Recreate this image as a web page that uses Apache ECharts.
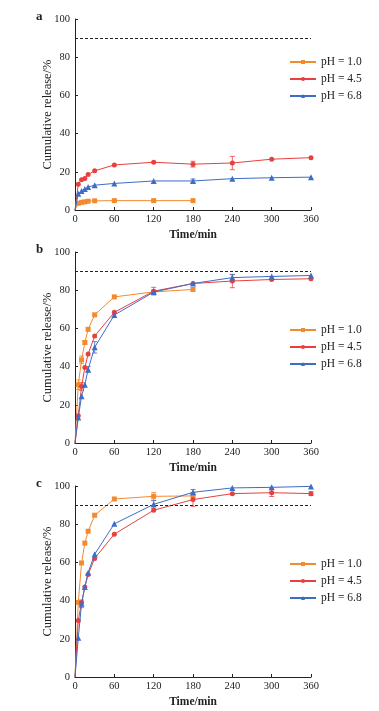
<!DOCTYPE html>
<html>
<head>
<meta charset="utf-8">
<script src="https://cdn.jsdelivr.net/npm/echarts@6/dist/echarts.min.js"></script>
<style>
  html, body { margin: 0; padding: 0; background: #fff; }
  #chart { width: 379px; height: 711px; }
</style>
</head>
<body>
<div id="chart"></div>
<script>
// 时间点 (min)
var timeAll = [0, 5, 10, 15, 20, 30, 60, 120, 180, 240, 300, 360];
var timeShort = [0, 5, 10, 15, 20, 30, 60, 120, 180];
var xTicks = [0, 60, 120, 180, 240, 300, 360];
var yTicks = [0, 20, 40, 60, 80, 100];
var limitLine = 90;
var seriesNames = ['pH = 1.0', 'pH = 4.5', 'pH = 6.8'];
var panelLabels = ['a', 'b', 'c'];

// panel a
var a_ph10 = [0, 3.5, 4.0, 4.3, 4.6, 4.8, 4.9, 4.9, 4.9];
var a_ph45 = [0, 13.5, 15.8, 16.5, 18.6, 20.5, 23.6, 25.0, 24.0, 24.6, 26.6, 27.4];
var a_ph68 = [0, 8.5, 10.0, 11.0, 12.0, 13.0, 13.9, 15.2, 15.2, 16.4, 16.9, 17.2];
var a_err10 = [0, 0, 0, 0, 0, 0, 0, 0, 0];
var a_err45 = [0, 0, 0, 0, 0, 0, 0, 0, 1.5, 3.5, 0, 0];
var a_err68 = [0, 0, 0, 0, 0, 0, 0, 0, 1.0, 0, 0, 0];

// panel b
var b_ph10 = [0, 30.5, 43.5, 52.6, 59.5, 67.1, 76.5, 79.1, 80.4];
var b_ph45 = [0, 14.3, 29.6, 39.5, 46.6, 56.0, 68.4, 79.5, 83.5, 84.8, 85.6, 86.0];
var b_ph68 = [0, 13.3, 24.5, 30.5, 38.5, 50.1, 67.0, 79.0, 83.5, 86.6, 87.2, 87.7];
var b_err10 = [0, 2.5, 2.0, 1.0, 0, 0, 0, 0, 0];
var b_err45 = [0, 0, 2.0, 0, 0, 0, 0, 2.0, 0, 3.5, 0, 0];
var b_err68 = [0, 0, 0, 0, 1.5, 3.0, 0, 0, 0, 1.5, 0, 0];

// panel c
var c_ph10 = [0, 39.0, 59.7, 70.1, 76.3, 84.7, 93.2, 94.6, 94.8];
var c_ph45 = [0, 29.6, 39.0, 47.1, 53.6, 62.1, 74.8, 87.3, 92.9, 96.0, 96.5, 96.0];
var c_ph68 = [0, 20.5, 38.3, 47.1, 54.6, 64.3, 80.2, 90.4, 96.7, 99.0, 99.3, 99.8];
var c_err10 = [0, 0, 0, 0, 0, 0, 0, 2.0, 0];
var c_err45 = [0, 0, 0, 0, 0, 0, 0, 0, 3.5, 0, 2.0, 1.0];
var c_err68 = [0, 0, 2.0, 0, 0, 0, 0, 2.0, 1.5, 0, 0, 0];

var colors = ['#f28a2e', '#e8403e', '#3d6dc6'];
var symbols = ['rect', 'circle', 'triangle'];
var font = '"Liberation Serif", "DejaVu Serif", serif';

var panels = [
  { vals: [a_ph10, a_ph45, a_ph68], errs: [a_err10, a_err45, a_err68], top: 19, legendTop: 51 },
  { vals: [b_ph10, b_ph45, b_ph68], errs: [b_err10, b_err45, b_err68], top: 252, legendTop: 319 },
  { vals: [c_ph10, c_ph45, c_ph68], errs: [c_err10, c_err45, c_err68], top: 486, legendTop: 553 }
];
var gridH = 191;

function pairs(xs, ys) {
  var out = [];
  for (var i = 0; i < ys.length; i++) {
    // 起点 (t=0) 不画标记
    out.push(xs[i] === 0 ? { value: [xs[i], ys[i]], symbol: 'none' } : [xs[i], ys[i]]);
  }
  return out;
}

function errItems(xs, ys, es) {
  var out = [];
  for (var i = 0; i < ys.length; i++) {
    if (es[i] > 0) out.push([xs[i], ys[i] - es[i], ys[i] + es[i]]);
  }
  return out;
}

function renderErr(params, api) {
  var lo = api.coord([api.value(0), api.value(1)]);
  var hi = api.coord([api.value(0), api.value(2)]);
  var w = 2.5;
  var st = { stroke: api.visual('color'), lineWidth: 0.8 };
  return {
    type: 'group',
    children: [
      { type: 'line', shape: { x1: lo[0], y1: lo[1], x2: hi[0], y2: hi[1] }, style: st },
      { type: 'line', shape: { x1: lo[0] - w, y1: lo[1], x2: lo[0] + w, y2: lo[1] }, style: st },
      { type: 'line', shape: { x1: hi[0] - w, y1: hi[1], x2: hi[0] + w, y2: hi[1] }, style: st }
    ]
  };
}

var grids = [], xAxes = [], yAxes = [], series = [], legends = [], graphics = [];

panels.forEach(function (p, gi) {
  grids.push({ left: 75, top: p.top, width: 236, height: gridH });
  xAxes.push({
    type: 'value', gridIndex: gi, min: 0, max: 360, interval: 60,
    name: 'Time/min', nameLocation: 'middle', nameGap: 19, nameMoveOverlap: false,
    nameTextStyle: { fontFamily: font, fontSize: 11.5, fontWeight: 'bold', color: '#222' },
    axisLine: { lineStyle: { color: '#222', width: 1 } },
    axisTick: { inside: true, length: 3, lineStyle: { color: '#222' } },
    axisLabel: { fontFamily: font, fontSize: 10.5, color: '#222', margin: 4,
      formatter: function (v) { return xTicks.indexOf(v) >= 0 ? String(v) : ''; } },
    splitLine: { show: false }
  });
  yAxes.push({
    type: 'value', gridIndex: gi, min: 0, max: 100, interval: 20,
    name: 'Cumulative release/%', nameLocation: 'middle', nameGap: 21, nameMoveOverlap: false,
    nameTextStyle: { fontFamily: font, fontSize: 12.5, color: '#222' },
    axisLine: { show: true, lineStyle: { color: '#222', width: 1 } },
    axisTick: { show: true, inside: true, length: 3, lineStyle: { color: '#222' } },
    axisLabel: { fontFamily: font, fontSize: 10.5, color: '#222', margin: 5,
      formatter: function (v) { return yTicks.indexOf(v) >= 0 ? String(v) : ''; } },
    splitLine: { show: false }
  });
  for (var k = 0; k < 3; k++) {
    var xs = p.vals[k].length === timeShort.length ? timeShort : timeAll;
    var s = {
      name: seriesNames[k], type: 'line', xAxisIndex: gi, yAxisIndex: gi,
      data: pairs(xs, p.vals[k]),
      symbol: symbols[k], symbolSize: k === 2 ? 6 : 5, showSymbol: true,
      color: colors[k], lineStyle: { width: 1, color: colors[k] },
      animation: false, z: 3 + k
    };
    if (k === 0) {
      s.markLine = {
        silent: true, symbol: 'none', label: { show: false },
        lineStyle: { type: [3, 2], color: '#222', width: 1 },
        data: [{ yAxis: limitLine }], animation: false
      };
    }
    series.push(s);
    series.push({
      name: seriesNames[k], type: 'custom', xAxisIndex: gi, yAxisIndex: gi,
      renderItem: renderErr, data: errItems(xs, p.vals[k], p.errs[k]),
      color: colors[k], encode: { x: 0, y: [1, 2] }, animation: false, z: 2
    });
  }
  legends.push({
    data: seriesNames, orient: 'vertical', left: 284, top: p.legendTop,
    itemWidth: 26, itemHeight: 5, itemGap: 5,
    textStyle: { fontFamily: font, fontSize: 11.5, color: '#222' }
  });
  graphics.push({
    type: 'text', left: 36, top: p.top - 9,
    style: { text: panelLabels[gi], font: 'bold 13px ' + font, fill: '#222' }
  });
});

var chart = echarts.init(document.getElementById('chart'), null, { renderer: 'canvas' });
chart.setOption({
  backgroundColor: '#fff',
  grid: grids, xAxis: xAxes, yAxis: yAxes,
  legend: legends, series: series, graphic: graphics
});
</script>
</body>
</html>
